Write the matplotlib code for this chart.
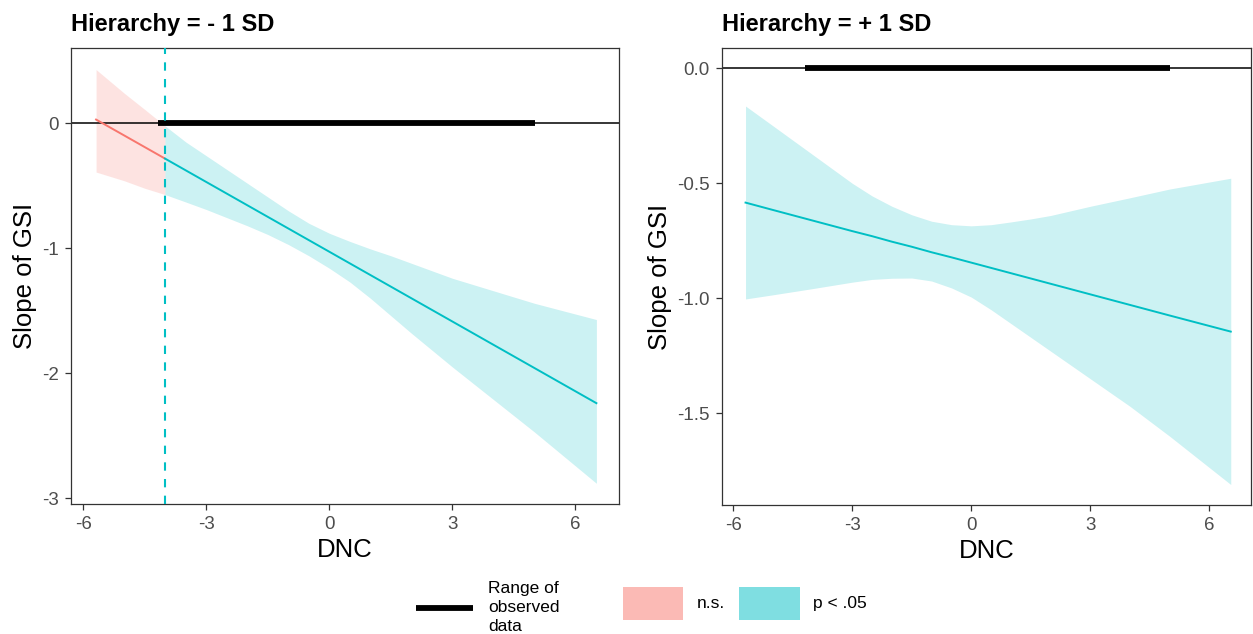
import matplotlib.pyplot as plt
from matplotlib.lines import Line2D
from matplotlib.patches import Patch

plt.rcParams['font.family'] = ['Liberation Sans', 'DejaVu Sans']
plt.rcParams['axes.unicode_minus'] = False

# Hierarchy = -1 SD : n.s. part (left of the JN point) and significant part
left_ns_x = [-5.69, -5.0, -4.5, -4.01]
left_ns_est = [0.030, -0.098, -0.191, -0.282]
left_ns_upper = [0.43, 0.24, 0.11, -0.02]
left_ns_lower = [-0.39, -0.46, -0.52, -0.57]

left_sig_x = [-4.01, -3.5, -3, -2.5, -2, -1.5, -1, -0.5, 0, 0.5, 1, 1.5, 2, 3, 4, 5, 6.51]
left_sig_est = [-0.282, -0.377, -0.470, -0.563, -0.656, -0.749, -0.842, -0.935, -1.028,
                -1.121, -1.214, -1.307, -1.400, -1.586, -1.772, -1.958, -2.239]
left_sig_upper = [-0.02, -0.15, -0.26, -0.37, -0.48, -0.59, -0.70, -0.80, -0.88,
                  -0.945, -1.005, -1.06, -1.12, -1.24, -1.34, -1.44, -1.57]
left_sig_lower = [-0.57, -0.63, -0.69, -0.755, -0.82, -0.89, -0.97, -1.06, -1.16,
                  -1.27, -1.40, -1.54, -1.68, -1.95, -2.21, -2.47, -2.88]
left_jn_point = -4.01

# Hierarchy = +1 SD : significant everywhere
right_x = [-5.69, -5, -4, -3, -2.5, -2, -1.5, -1, -0.5, 0, 0.5, 1, 1.5, 2, 3, 4, 5, 6.54]
right_est = [-0.584, -0.616, -0.662, -0.708, -0.730, -0.754, -0.776, -0.800, -0.822,
             -0.845, -0.868, -0.891, -0.914, -0.937, -0.983, -1.029, -1.075, -1.145]
right_upper = [-0.164, -0.25, -0.375, -0.50, -0.555, -0.60, -0.637, -0.665, -0.680,
               -0.685, -0.680, -0.668, -0.655, -0.64, -0.60, -0.563, -0.525, -0.478]
right_lower = [-1.003, -0.985, -0.958, -0.93, -0.918, -0.913, -0.912, -0.925, -0.955,
               -0.995, -1.05, -1.11, -1.17, -1.23, -1.35, -1.47, -1.60, -1.81]

observed_range = [-4.19, 5.02]
x_ticks = [-6, -3, 0, 3, 6]
left_y_ticks = [0, -1, -2, -3]
right_y_ticks = [0.0, -0.5, -1.0, -1.5]

teal = '#00BFC4'
red = '#F8766D'

fig = plt.figure(figsize=(12.53, 6.34), dpi=100)
ax1 = fig.add_axes([0.0567, 0.2050, 0.4376, 0.7192])
ax2 = fig.add_axes([0.5760, 0.2035, 0.4224, 0.7203])


def style(ax, title, yticks, ylabels):
    ax.axhline(0, color='black', lw=1.1, zorder=2)
    ax.plot(observed_range, [0, 0], color='black', lw=4.2, solid_capstyle='butt', zorder=3)
    ax.set_xticks(x_ticks)
    ax.set_yticks(yticks)
    ax.set_yticklabels(ylabels)
    ax.tick_params(length=4.5, width=0.9, color='#333333', labelsize=13.5,
                   labelcolor='#4D4D4D', pad=4)
    for s in ax.spines.values():
        s.set_color('#333333')
        s.set_linewidth(0.9)
    ax.set_title(title, loc='left', fontsize=17, fontweight='bold', pad=12.5)
    ax.set_xlabel('DNC', fontsize=18.5, labelpad=4)
    ax.set_ylabel('Slope of GSI', fontsize=18.5, labelpad=4)


# left panel
ax1.fill_between(left_ns_x, left_ns_lower, left_ns_upper, color=red, alpha=0.2, lw=0, zorder=1)
ax1.fill_between(left_sig_x, left_sig_lower, left_sig_upper, color=teal, alpha=0.2, lw=0, zorder=1)
ax1.plot(left_ns_x, left_ns_est, color=red, lw=1.4, zorder=4)
ax1.plot(left_sig_x, left_sig_est, color=teal, lw=1.4, zorder=4)
ax1.axvline(left_jn_point, color=teal, lw=1.5, dashes=(4, 4), zorder=5)
style(ax1, 'Hierarchy = - 1 SD', left_y_ticks, ['0', '-1', '-2', '-3'])
ax1.set_xlim(-6.3, 7.07)
ax1.set_ylim(-3.046, 0.602)

# right panel
ax2.fill_between(right_x, right_lower, right_upper, color=teal, alpha=0.2, lw=0, zorder=1)
ax2.plot(right_x, right_est, color=teal, lw=1.4, zorder=4)
style(ax2, 'Hierarchy = + 1 SD', right_y_ticks, ['%.1f' % v for v in right_y_ticks])
ax2.set_xlim(-6.29, 7.05)
ax2.set_ylim(-1.899, 0.087)

# legends (two boxes, like ggplot)
h_range = Line2D([], [], color='black', lw=4.2, solid_capstyle='butt')
leg1 = fig.legend([h_range], ['Range of\nobserved\ndata'], loc='center left',
                  bbox_to_anchor=(416 / 1253, 1 - 607.5 / 634), frameon=False,
                  fontsize=12.5, handlelength=3.27, handletextpad=0.9,
                  borderpad=0, borderaxespad=0)
leg1.get_texts()[0].set_linespacing(1.3)

h_ns = Patch(facecolor=red, alpha=0.5, edgecolor='none')
h_sig = Patch(facecolor=teal, alpha=0.5, edgecolor='none')
leg2 = fig.legend([h_ns, h_sig], ['n.s.', 'p < .05'], loc='center left', ncol=2,
                  bbox_to_anchor=(622.7 / 1253, 1 - 603.5 / 634), frameon=False,
                  fontsize=12.5, handlelength=3.5, handleheight=2.6,
                  handletextpad=0.77, columnspacing=0.82,
                  borderpad=0, borderaxespad=0)

for leg in (leg1, leg2):
    for col in leg._legend_handle_box.get_children():
        for row in col.get_children():
            row.align = 'center'

fig.savefig('out.png', dpi=100)
